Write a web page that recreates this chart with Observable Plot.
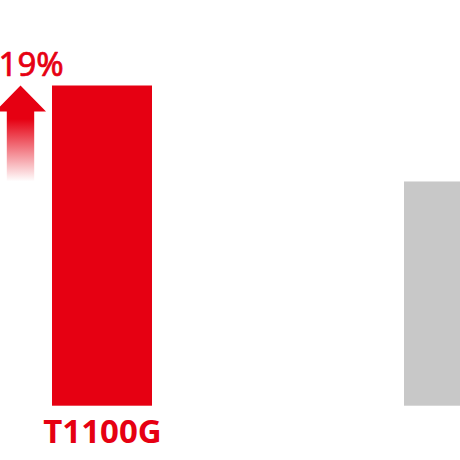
<!DOCTYPE html>
<html><head><meta charset="utf-8">
<script src="https://cdn.jsdelivr.net/npm/d3@7"></script>
<script src="https://cdn.jsdelivr.net/npm/@observablehq/plot@0.6"></script>
<style>html,body{margin:0;padding:0;overflow:hidden;background:#fff}</style>
</head><body><div id="chart"></div>
<script>
const categories = ["T1100G", "T800S"];
const values = [7.0, 5.9];
const colors = ["#e60012", "#c8c8c8"];
const shownLabels = ["T1100G"];
const gainLabel = ["19%"];
const yBase = 3.33;

const data = categories.map((c, i) => ({category: c, value: values[i], color: colors[i]}));
const red = colors[0];

const chart = Plot.plot({
  width: 460, height: 460, margin: 0,
  style: {background: "#fff", fontFamily: "'Noto Sans', sans-serif", overflow: "hidden"},
  x: {domain: categories, range: [52, 504], paddingInner: 0.716, paddingOuter: 0, axis: null},
  y: {domain: [yBase, values[0]], range: [405.7, 85.5], axis: null},
  color: {type: "identity"},
  marks: [
    Plot.barY(data, {x: "category", y1: () => yBase, y2: "value", fill: "color"}),
    Plot.text(shownLabels, {x: d => d, y: () => yBase, text: d => d, fill: red, fontSize: 33, fontWeight: "bold", lineAnchor: "top", dy: 13.5}),
    Plot.text(gainLabel, {frameAnchor: "top-left", text: d => d, textAnchor: "start", lineAnchor: "top", dx: -2, dy: 52, fill: red, stroke: red, strokeWidth: 0.7, fontSize: 33})
  ]
});

// Arrow annotation from the gray value up to the red value
const sx = chart.scale("x"), sy = chart.scale("y");
const bandStart = sx.apply ? sx.apply(categories[0]) : 52;
const cx = bandStart - 31.5;
const yTip = sy.apply ? sy.apply(values[0]) : 85.5;
const yBottom = sy.apply ? sy.apply(values[1]) : 181.5;
const headH = 26, headHalf = 25.5, shaftHalf = 13.7;
const svg = d3.select(chart);
const defs = svg.append("defs");
const grad = defs.append("linearGradient").attr("id", "fade")
  .attr("x1", 0).attr("y1", 0).attr("x2", 0).attr("y2", 1);
grad.append("stop").attr("offset", 0).attr("stop-color", red).attr("stop-opacity", 1);
grad.append("stop").attr("offset", 0.35).attr("stop-color", red).attr("stop-opacity", 1);
grad.append("stop").attr("offset", 1).attr("stop-color", red).attr("stop-opacity", 0);
const pts = [
  [cx, yTip], [cx + headHalf, yTip + headH], [cx + shaftHalf, yTip + headH],
  [cx + shaftHalf, yBottom], [cx - shaftHalf, yBottom], [cx - shaftHalf, yTip + headH],
  [cx - headHalf, yTip + headH]
];
svg.append("path").attr("d", "M" + pts.map(p => p.join(",")).join("L") + "Z").attr("fill", "url(#fade)");

document.getElementById("chart").appendChild(chart);
</script>
</body></html>
